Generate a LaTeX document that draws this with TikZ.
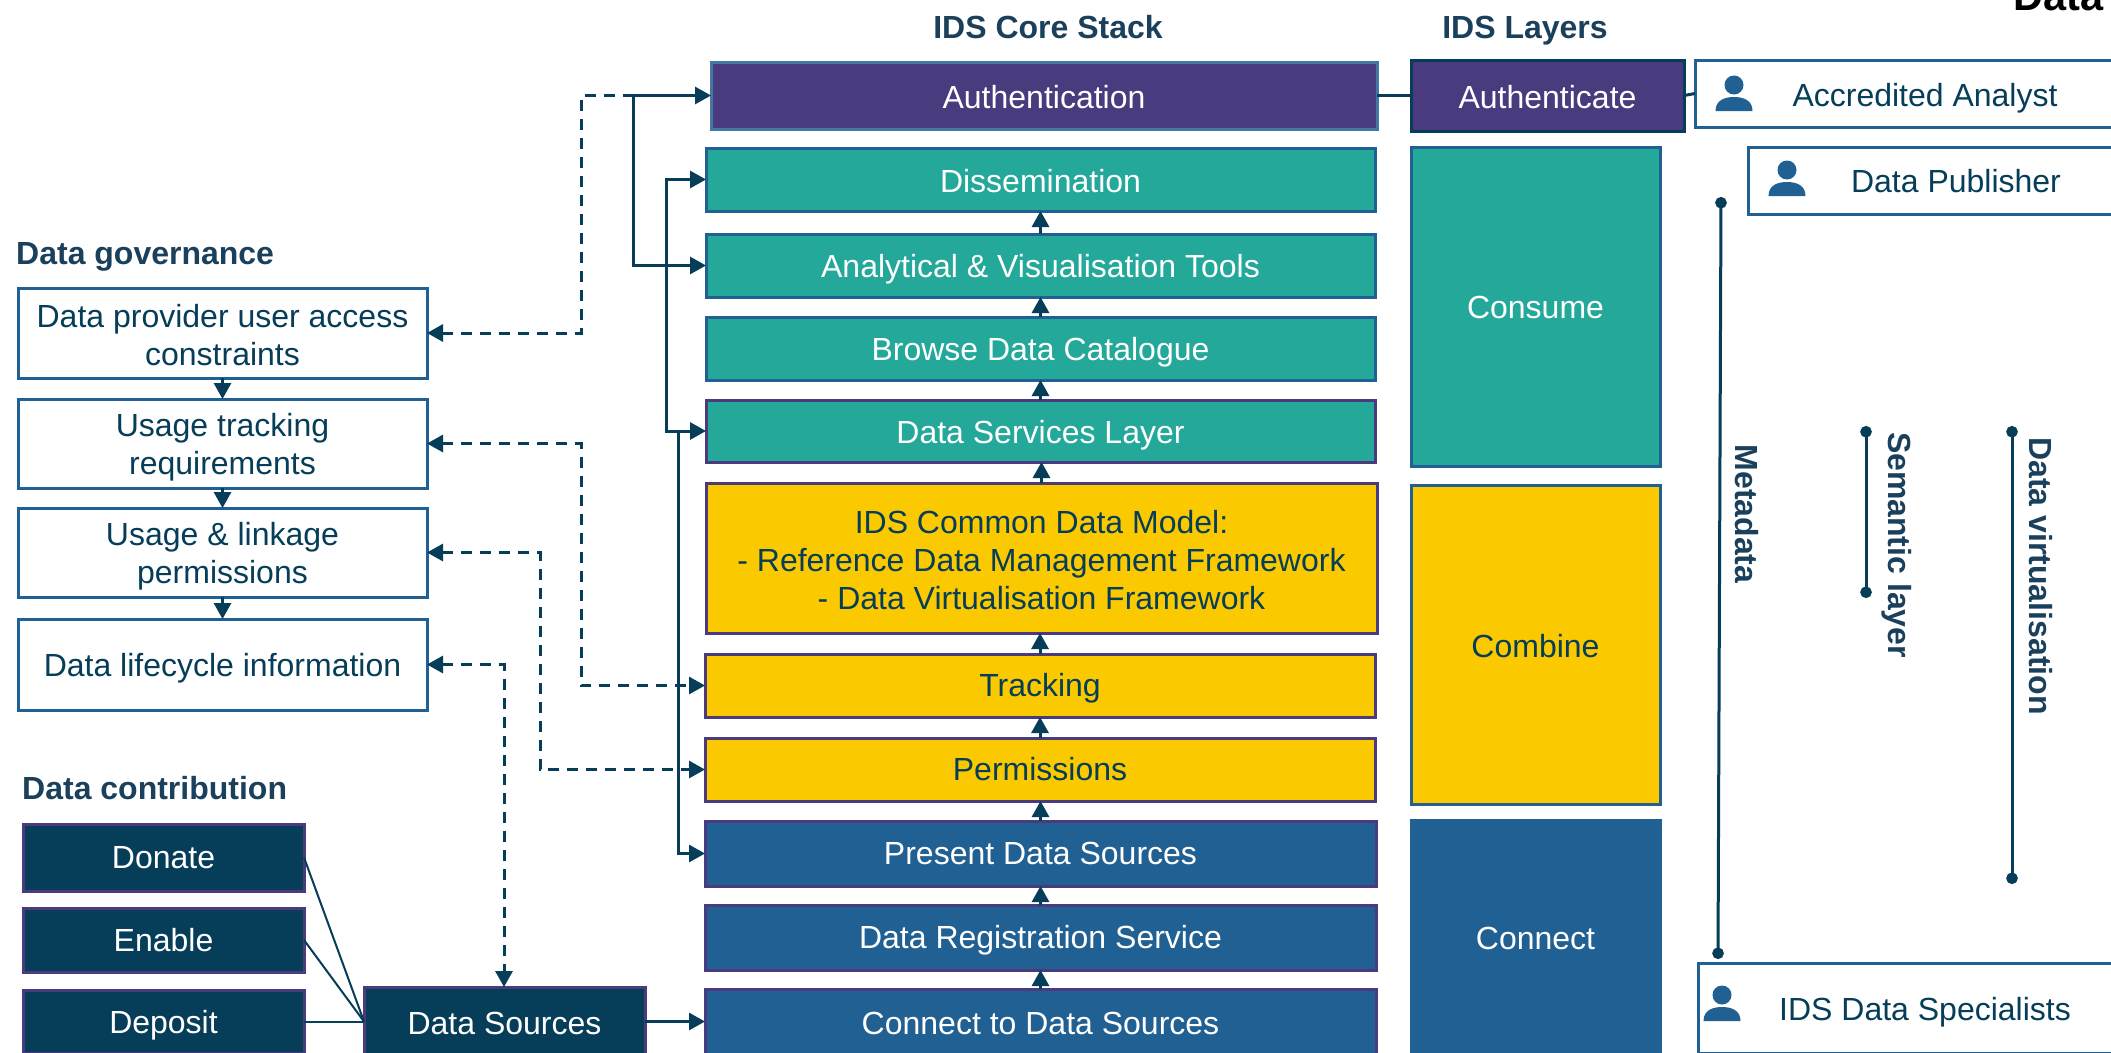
\documentclass[tikz,border=0pt]{standalone}
\usepackage{fontspec}
\setmainfont{Liberation Sans}
\usetikzlibrary{arrows.meta}
\definecolor{tealc}{HTML}{23A899}
\definecolor{yellowc}{HTML}{FBC900}
\definecolor{bluec}{HTML}{216093}
\definecolor{purplec}{HTML}{4A3B7E}
\definecolor{darkc}{HTML}{063D58}
\definecolor{titlec}{HTML}{1B405C}
\newcommand{\sline}{\rule[-3pt]{0pt}{33pt}}
% style, name, x1, y1, x2, y2, text
\newcommand{\nbox}[7]{\node[#1,minimum width={(#5-#3)*1pt},minimum height={(#6-#4)*1pt}] (#2) at ({(#3+#5)/2},{(#4+#6)/2}) {\sline #7};}
\tikzset{
  x=1pt,y=-1pt,
  basebox/.style={rectangle,inner sep=0pt,outer sep=0pt,line width=3pt,align=center,font=\fontsize{32}{38.3}\selectfont},
  tealbox/.style={basebox,draw=bluec,fill=tealc,text=white},
  tealboxp/.style={basebox,draw=purplec,fill=tealc,text=white},
  authbox/.style={basebox,draw=bluec!85!white,fill=purplec,text=white},
  authlayer/.style={basebox,draw=darkc,fill=purplec,text=white},
  yellowbox/.style={basebox,draw=purplec,fill=yellowc,text=darkc},
  yellowlayer/.style={basebox,draw=bluec,fill=yellowc,text=darkc},
  bluebox/.style={basebox,draw=purplec,fill=bluec,text=white},
  bluelayer/.style={basebox,draw=bluec,fill=bluec,text=white},
  whitebox/.style={basebox,draw=bluec,fill=white,text=darkc},
  darkbox/.style={basebox,draw=purplec,fill=darkc,text=white},
  heading/.style={anchor=base,inner sep=0pt,text=titlec,font=\fontsize{32}{38}\selectfont\bfseries},
  conn/.style={draw=darkc,line width=3pt},
  tipped/.style={conn,arrows={-Triangle[length=16pt,width=17pt]}},
  twotipped/.style={conn,arrows={Triangle[length=16pt,width=17pt]-Triangle[length=16pt,width=17pt]}},
  dashconn/.style={conn,dash pattern=on 11pt off 8pt},
  thinconn/.style={draw=darkc,line width=2pt},
  barline/.style={draw=darkc,line width=3pt,arrows={Circle[length=11.5pt]-Circle[length=11.5pt]}},
  persona/.pic={
    \fill[bluec] (0,0) circle[radius=9.5pt];
    \fill[bluec] (-18.5,26) .. controls (-18.5,15) and (-9,12) .. (0,12) .. controls (9,12) and (18.5,15) .. (18.5,26) -- cycle;
  }
}
\begin{document}
\begin{tikzpicture}
\useasboundingbox (0,0) rectangle (2111,1052);
\clip (0,0) rectangle (2111,1052);
\fill[white] (0,0) rectangle (2111,1052);

% headings
\node[heading] (hcore) at (1048,38) {IDS Core Stack};
\node[heading] (hlayers) at (1525,38) {IDS Layers};
\node[heading,anchor=base west] (hgov) at (16,264) {Data governance};
\node[heading,anchor=base west] (hcontrib) at (22,799) {Data contribution};
\node[heading,anchor=base west,text=black,font=\fontsize{41.5}{46}\selectfont\bfseries] (htop) at (2013,10) {Data};

% core stack
\nbox{authbox}{auth}{711}{62}{1377}{129}{\raisebox{1pt}{Authentication}}
\nbox{tealbox}{diss}{706}{148}{1375}{211}{\raisebox{1pt}{Dissemination}}
\nbox{tealbox}{ana}{706}{234}{1375}{297}{Analytical \& Visualisation Tools}
\nbox{tealbox}{browse}{706}{317}{1375}{380}{Browse Data Catalogue}
\nbox{tealboxp}{dsl}{706}{400}{1375}{462}{\raisebox{-1pt}{Data Services Layer}}
\nbox{yellowbox}{cdm}{706}{483}{1377}{633}{IDS Common Data Model:\\ \sline - Reference Data Management Framework\\ \sline - Data Virtualisation Framework}
\nbox{yellowbox}{track}{705}{654}{1375}{717}{\raisebox{1pt}{Tracking}}
\nbox{yellowbox}{perm}{705}{738}{1375}{801}{\raisebox{2.5pt}{Permissions}}
\nbox{bluebox}{present}{705}{821}{1376}{886}{\raisebox{2.5pt}{Present Data Sources}}
\nbox{bluebox}{reg}{705}{905}{1376}{970}{\raisebox{1pt}{Data Registration Service}}
\nbox{bluebox}{connect}{705}{989}{1376}{1054}{\raisebox{1pt}{Connect to Data Sources}}

% layers
\nbox{authlayer}{lauth}{1411}{60}{1684}{131}{\raisebox{1pt}{Authenticate}}
\nbox{tealbox}{lconsume}{1411}{147}{1660}{466}{\raisebox{2pt}{Consume}}
\nbox{yellowlayer}{lcombine}{1411}{485}{1660}{804}{\raisebox{1pt}{Combine}}
\nbox{bluelayer}{lconnect}{1411}{820}{1660}{1056}{\raisebox{2.5pt}{Connect}}

% actors
\nbox{whitebox}{analyst}{1695}{60}{2155}{127}{\raisebox{-2pt}{Accredited Analyst}}
\nbox{whitebox}{publisher}{1748}{147}{2164}{214}{\raisebox{2pt}{Data Publisher}}
\nbox{whitebox}{specialists}{1698}{963}{2152}{1053}{\raisebox{-1pt}{IDS Data Specialists}}
\pic at (1734,85) {persona};
\pic at (1787,170) {persona};
\pic at (1722,995) {persona};

% governance
\nbox{whitebox}{gova}{18}{288}{427}{378}{Data provider user access\\ \sline constraints}
\nbox{whitebox}{govb}{18}{399}{427}{488}{Usage tracking\\ \sline requirements}
\nbox{whitebox}{govc}{18}{508}{427}{597}{Usage \& linkage\\ \sline permissions}
\nbox{whitebox}{govd}{18}{619}{427}{710}{Data lifecycle information}

% contribution
\nbox{darkbox}{donate}{23}{824}{304}{891}{\raisebox{2.5pt}{Donate}}
\nbox{darkbox}{enable}{23}{908}{304}{972}{\raisebox{2.5pt}{Enable}}
\nbox{darkbox}{deposit}{23}{990}{304}{1053}{\raisebox{-1pt}{Deposit}}
\nbox{darkbox}{sources}{364}{987}{645}{1055}{Data Sources}

% free coordinates
\coordinate (dashA) at (581,200);
\coordinate (dashB) at (581,560);
\coordinate (dashC) at (540,660);
\coordinate (dashD) at (504,800);
\coordinate (solA) at (633,180);
\coordinate (solB) at (666,300);
\coordinate (solJ) at (678,431);
\coordinate (dashEnd) at (633,95.5);
\coordinate (metaT) at (1721,197);
\coordinate (metaB) at (1718,959);
\coordinate (semT) at (1866,426);
\coordinate (semB) at (1866,598);
\coordinate (virtT) at (2012,426);
\coordinate (virtB) at (2012,884);

% stack arrows
\draw[tipped] (ana.north) -- (ana.north |- diss.south);
\draw[tipped] (browse.north) -- (browse.north |- ana.south);
\draw[tipped] (dsl.north) -- (dsl.north |- browse.south);
\draw[tipped] (cdm.north) -- (cdm.north |- dsl.south);
\draw[tipped] (track.north) -- (track.north |- cdm.south);
\draw[tipped] (perm.north) -- (perm.north |- track.south);
\draw[tipped] (present.north) -- (present.north |- perm.south);
\draw[tipped] (reg.north) -- (reg.north |- present.south);
\draw[tipped] (connect.north) -- (connect.north |- reg.south);

% governance arrows
\draw[tipped] (gova.south) -- (govb.north);
\draw[tipped] (govb.south) -- (govc.north);
\draw[tipped] (govc.south) -- (govd.north);

% solid access lines
\draw[twotipped] (auth.west) -| (solA) |- (ana.west);
\draw[twotipped] (diss.west) -| (solB) |- (dsl.west);
\draw[tipped] (solJ) |- (present.west);

% dashed links
\draw[dashconn,arrows={Triangle[length=16pt,width=17pt]-}] (gova.east) -| (dashA) |- (dashEnd);
\draw[dashconn,arrows={Triangle[length=16pt,width=17pt]-Triangle[length=16pt,width=17pt]}] (govb.east) -| (dashB) |- (track.west);
\draw[dashconn,arrows={Triangle[length=16pt,width=17pt]-Triangle[length=16pt,width=17pt]}] (govc.east) -| (dashC) |- (perm.west);
\draw[dashconn,arrows={Triangle[length=16pt,width=17pt]-Triangle[length=16pt,width=17pt]}] (govd.east) -| (dashD |- sources.north);

% contribution links
\draw[thinconn] (donate.east) -- (sources.west |- deposit.east);
\draw[thinconn] (enable.east) -- (sources.west |- deposit.east);
\draw[thinconn] (deposit.east) -- (sources.west |- deposit.east);
\draw[tipped] (sources.east |- connect.west) -- (connect.west);

% layer links
\draw[conn] (auth.east) -- (lauth.west);
\draw[conn] (lauth.east) -- (analyst.west);

% cross-cutting bars
\draw[barline] (metaT) -- (metaB);
\draw[barline] (semT) -- (semB);
\draw[barline] (virtT) -- (virtB);
\node[heading,rotate=-90] (tmeta) at (1735,514) {Metadata};
\node[heading,rotate=-90] (tsem) at (1888,545) {Semantic layer};
\node[heading,rotate=-90] (tvirt) at (2029,576) {Data virtualisation};
\end{tikzpicture}
\end{document}
